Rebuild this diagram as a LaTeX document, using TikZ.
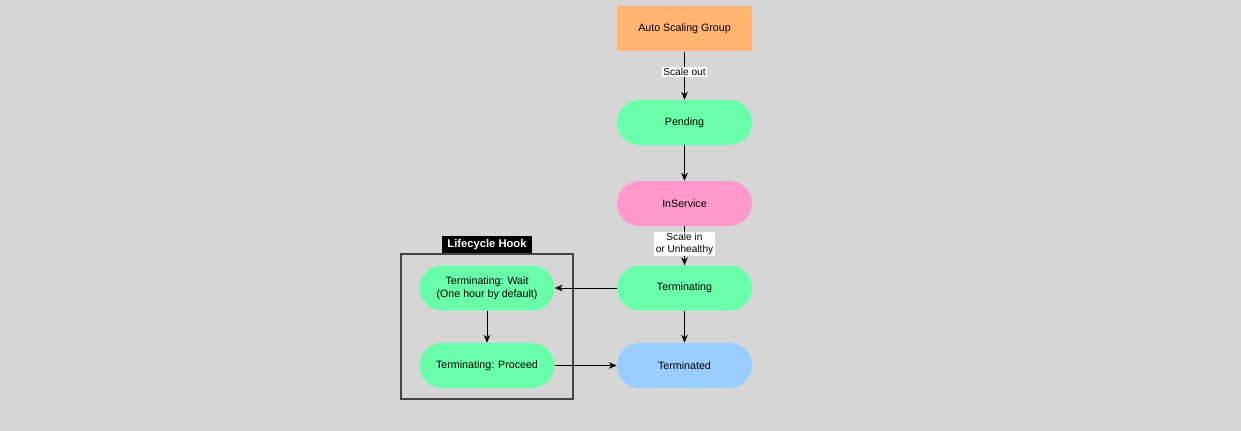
\documentclass[tikz,border=0pt]{standalone}
\usepackage{fontspec}
\setmainfont{Liberation Sans}
\usepackage{xcolor}
\usetikzlibrary{arrows.meta,positioning}
\definecolor{bggray}{RGB}{214,214,214}
\definecolor{asgorange}{RGB}{255,181,112}
\definecolor{stategreen}{RGB}{105,255,170}
\definecolor{statepink}{RGB}{255,153,204}
\definecolor{stateblue}{RGB}{153,204,255}
\definecolor{hookgray}{RGB}{68,68,68}

\begin{document}
\begin{tikzpicture}[
    x=0.75pt, y=-0.75pt,
    font=\fontsize{8}{9.6}\selectfont,
    nosep/.style={inner sep=0},
    state/.style={rectangle, rounded corners=16.8pt, minimum width=101.25pt, minimum height=33.75pt, align=center, nosep, text=black},
    edgelabel/.style={fill=white, nosep, inner xsep=1pt, inner ysep=1pt, align=center, font=\fontsize{7.6}{9}\selectfont},
    flow/.style={draw=black, -{Stealth[length=6pt,width=5pt]}, line width=0.6pt}
    ]
\path[fill=bggray] (0,0) rectangle (1241,431);
\useasboundingbox (0,0) rectangle (1241,431);

% lifecycle hook box
\node (hookbox) [draw=hookgray, line width=1.8pt, minimum width=129pt, minimum height=108.75pt, nosep] at (487,326.5) {};
\node (hooklabel) [fill=black, text=white, font=\fontsize{8.4}{10}\selectfont\bfseries, minimum width=67.5pt, minimum height=12.75pt, nosep] at (487,244.5) {Lifecycle Hook};

% states
\node (asg)         [state, rounded corners=0pt, fill=asgorange] at (684.5,29)  {Auto Scaling Group};
\node (pending)     [state, fill=stategreen] at (684.5,122.5) {Pending};
\node (inservice)   [state, fill=statepink]  at (684.5,203.5) {InService};
\node (terminating) [state, fill=stategreen] at (684.5,288)   {Terminating};
\node (terminated)  [state, fill=stateblue]  at (684.5,365.5) {Terminated};
\node (termwait)    [state, fill=stategreen] at (487,288)     {Terminating: Wait\\(One hour by default)};
\node (termproceed) [state, fill=stategreen] at (487,365.5)   {Terminating: Proceed};

% connectors
\draw[flow] (asg) -- node[edgelabel, pos=0.42] {Scale out} (pending);
\draw[flow] (pending) -- (inservice);
\draw[flow] (inservice) -- node[edgelabel, pos=0.45] {Scale in\\or Unhealthy} (terminating);
\draw[flow] (terminating) -- (termwait);
\draw[flow] (terminating) -- (terminated);
\draw[flow] (termwait) -- (termproceed);
\draw[flow] (termproceed) -- (terminated);

\end{tikzpicture}
\end{document}
